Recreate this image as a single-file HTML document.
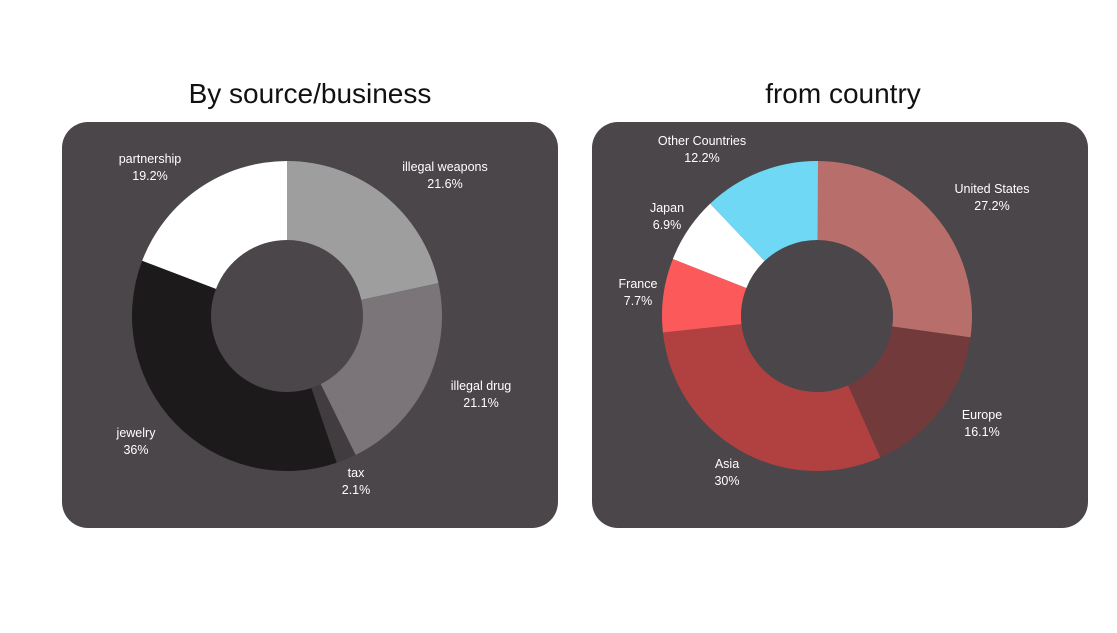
<!DOCTYPE html>
<html><head><meta charset="utf-8"><style>
body{margin:0;background:#fff;width:1117px;height:628px;overflow:hidden;font-family:"Liberation Sans",sans-serif}
svg text{font-family:"Liberation Sans",sans-serif}
</style></head><body>
<svg id="s" width="1117" height="628" viewBox="0 0 1117 628" xmlns="http://www.w3.org/2000/svg">
<rect x="62" y="122" width="496" height="406" rx="26" fill="#4a464a"/>
<rect x="592" y="122" width="496" height="406" rx="26" fill="#4a464a"/>
<text x="310" y="103" font-size="28" text-anchor="middle" fill="#111">By source/business</text>
<text x="843" y="103" font-size="28" text-anchor="middle" fill="#111">from country</text>
<g id="L"></g><g id="R"></g>
<g font-size="12.5" fill="#fff" text-anchor="middle">
<text x="150" y="163">partnership</text><text x="150" y="180">19.2%</text>
<text x="445" y="171">illegal weapons</text><text x="445" y="188">21.6%</text>
<text x="481" y="390">illegal drug</text><text x="481" y="407">21.1%</text>
<text x="356" y="477">tax</text><text x="356" y="494">2.1%</text>
<text x="136" y="437">jewelry</text><text x="136" y="454">36%</text>
<text x="702" y="145">Other Countries</text><text x="702" y="162">12.2%</text>
<text x="667" y="212">Japan</text><text x="667" y="229">6.9%</text>
<text x="638" y="288">France</text><text x="638" y="305">7.7%</text>
<text x="992" y="193">United States</text><text x="992" y="210">27.2%</text>
<text x="982" y="419">Europe</text><text x="982" y="436">16.1%</text>
<text x="727" y="468">Asia</text><text x="727" y="485">30%</text>
</g>
</svg>
<script>
function donut(id,cx,cy,R,r,data){
 var g=document.getElementById(id),a=0,h='';
 data.forEach(function(d){
  var a0=a*2*Math.PI/100,a1=(a+d[0])*2*Math.PI/100;a+=d[0];
  var p=function(rad,t){return [cx+rad*Math.sin(t),cy-rad*Math.cos(t)].map(function(v){return v.toFixed(2)}).join(' ')};
  var lg=d[0]>50?1:0;
  h+='<path fill="'+d[1]+'" d="M'+p(R,a0)+' A'+R+' '+R+' 0 '+lg+' 1 '+p(R,a1)+' L'+p(r,a1)+' A'+r+' '+r+' 0 '+lg+' 0 '+p(r,a0)+' Z"/>';
 });
 g.innerHTML=h;
}
donut('L',287,316,155,76,[[21.6,'#9e9e9e'],[21.1,'#7b7479'],[2.1,'#413c40'],[36,'#1c1a1b'],[19.2,'#ffffff']]);
donut('R',817,316,155,76,[[27.2,'#b86f6c'],[16.1,'#733a3b'],[30,'#b04140'],[7.7,'#fc5a5a'],[6.9,'#ffffff'],[12.2,'#6fd9f5']]);
</script>
</body></html>
